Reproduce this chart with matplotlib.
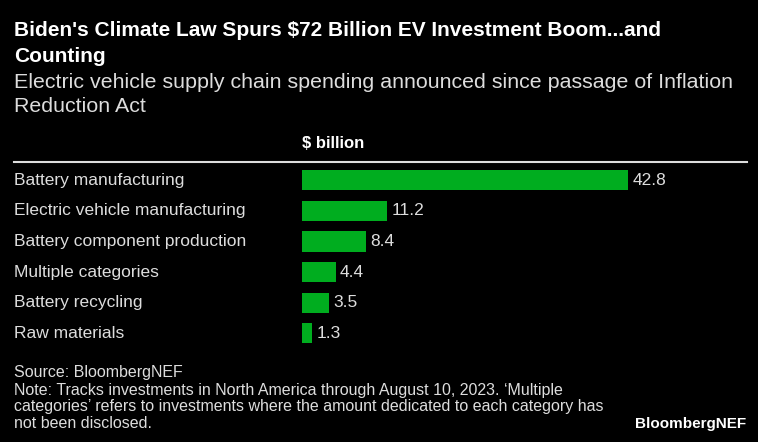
import matplotlib.pyplot as plt
from matplotlib.transforms import blended_transform_factory
from matplotlib.lines import Line2D

# Data: EV supply chain spending announced since IRA ($ billion)
categories = ['Battery manufacturing', 'Electric vehicle manufacturing',
              'Battery component production', 'Multiple categories',
              'Battery recycling', 'Raw materials']
values = [42.8, 11.2, 8.4, 4.4, 3.5, 1.3]

plt.rcParams['font.family'] = ['Liberation Sans', 'DejaVu Sans']

fig = plt.figure(figsize=(7.58, 4.42), dpi=100, facecolor='black')
W, H = 758, 442

# axes placed in pixel terms to follow the reference layout
left, right, top, bottom = 302, 747, 162, 350
ax = fig.add_axes([left / W, 1 - bottom / H, (right - left) / W, (bottom - top) / H])
ax.set_facecolor('black')

bars = ax.barh(range(len(values)), values, height=0.66, color='#00ad1f')
ax.set_xlim(0, 58.4)
ax.set_ylim(5.55, -0.6)
ax.axis('off')

# value labels
for bar, v in zip(bars, values):
    ax.text(bar.get_width() + 0.6, bar.get_y() + bar.get_height() / 2, f'{v}',
            color='#dddddd', fontsize=12.5, va='center', ha='left')

# category labels at the left edge of the figure
trans = blended_transform_factory(fig.transFigure, ax.transData)
for i, cat in enumerate(categories):
    ax.text(14 / W, i, cat, transform=trans, color='#dddddd', fontsize=12.5,
            va='center', ha='left')

# header line and unit label
fig.add_artist(Line2D([14 / W, 747 / W], [1 - 162 / H, 1 - 162 / H],
                      color='#dddddd', lw=1.5))
fig.text(left / W, 1 - 143 / H, '$ billion', color='white', fontsize=12,
         fontweight='bold', va='center', ha='left')

# title and subtitle
fig.text(14 / W, 1 - 31 / H, "Biden's Climate Law Spurs $72 Billion EV Investment Boom...and",
         color='white', fontsize=15, fontweight='bold', va='center', ha='left')
fig.text(14 / W, 1 - 57 / H, 'Counting', color='white', fontsize=15,
         fontweight='bold', va='center', ha='left')
fig.text(14 / W, 1 - 83 / H,
         'Electric vehicle supply chain spending announced since passage of Inflation',
         color='#dddddd', fontsize=15.4, va='center', ha='left')
fig.text(14 / W, 1 - 107 / H, 'Reduction Act', color='#dddddd', fontsize=15.4,
         va='center', ha='left')

# footer
footer = ['Source: BloombergNEF',
          'Note: Tracks investments in North America through August 10, 2023. \u2018Multiple',
          'categories\u2019 refers to investments where the amount dedicated to each category has',
          'not been disclosed.']
for i, line in enumerate(footer):
    fig.text(14 / W, 1 - (373 + i * 17) / H, line, color='#dddddd', fontsize=11.5,
             va='center', ha='left')
fig.text(746 / W, 1 - 424 / H, 'BloombergNEF', color='white', fontsize=11,
         fontweight='bold', va='center', ha='right')

plt.savefig('out.png', dpi=100, facecolor='black')
